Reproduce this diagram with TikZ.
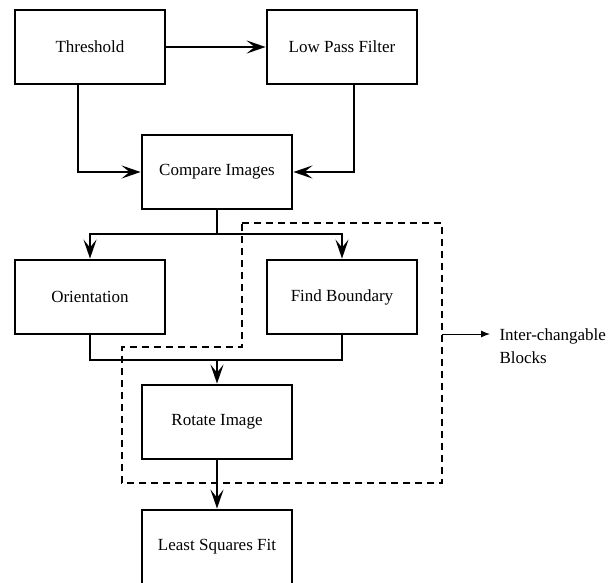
\documentclass[tikz,border=0pt]{standalone}
\usepackage{fontspec}
\setmainfont{Liberation Serif}
\usepackage{tikz}
\usetikzlibrary{arrows.meta,positioning}

\begin{document}
\begin{tikzpicture}[x=1pt,y=-1pt]
\tikzstyle{block}=[draw,line width=2.8pt,minimum width=150pt,minimum height=74pt,font=\fontsize{17}{20}\selectfont]
\tikzstyle{link}=[line width=2.8pt,-{Stealth[length=19pt,width=13pt,inset=8pt]}]
\tikzstyle{wire}=[line width=2.8pt]
\useasboundingbox (0,0) rectangle (612,582);
% processing blocks
\node[block] (thresh) at (90,47) {Threshold};
\node[block] (lpf) at (342,47) {Low Pass Filter};
\node[block] (cmp) at (217,172) {Compare Images};
\node[block] (orient) at (90,297) {Orientation};
\node[block] (bound) at (342,297) {Find Boundary};
\node[block] (rot) at (217,422) {Rotate Image};
\node[block] (lsq) at (217,547) {Least Squares Fit};
\coordinate (split) at (217,234);
\coordinate (merge) at (217,360);
% data flow
\draw[link] (thresh) -- (lpf);
\draw[link] ([xshift=-12pt]thresh.south) |- (cmp.west);
\draw[link] ([xshift=12pt]lpf.south) |- (cmp.east);
\draw[wire] (cmp.south) -- (split);
\draw[link] (split) -| (orient.north);
\draw[link] (split) -| (bound.north);
\draw[wire] (orient.south) |- (merge) -| (bound.south);
\draw[link] (merge) -- (rot.north);
\draw[link] (rot) -- (lsq);
% swappable group
\draw[line width=1.5pt,dash pattern=on 7pt off 5pt]
  (242,223) -- (442,223) -- (442,483) -- (122,483) -- (122,347) -- (242,347) -- cycle;
\coordinate (tap) at (442,334);
\node[anchor=west,align=left,font=\fontsize{17}{23}\selectfont] (note) at (496,346) {Inter-changable\\Blocks};
\draw[line width=1pt,-{Latex[length=9pt,width=7pt]}] (tap) -- ([xshift=-6pt]note.west |- tap);
\end{tikzpicture}
\end{document}
